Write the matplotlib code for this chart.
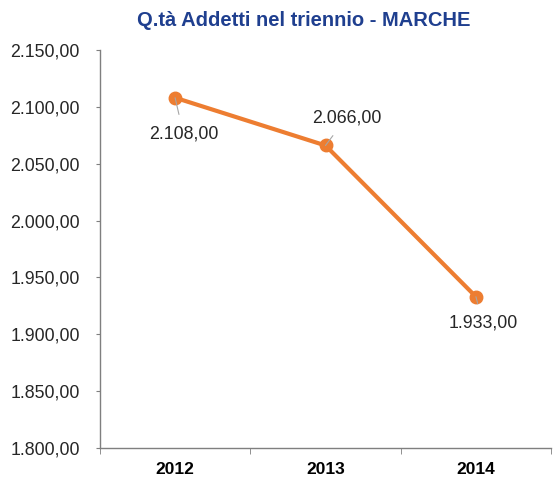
import matplotlib.pyplot as plt
from matplotlib.ticker import FixedLocator, FuncFormatter

plt.rcParams["font.family"] = ["Liberation Sans", "DejaVu Sans"]

# Data
years = ["2012", "2013", "2014"]
addetti = [2108.0, 2066.0, 1933.0]
label_offsets = [(6, -26), (15, 20), (5, -19)]


def it_fmt(v, pos=None):
    s = f"{v:,.2f}"
    return s.replace(",", "X").replace(".", ",").replace("X", ".")


fig = plt.figure(figsize=(5.55, 4.79), dpi=100)
ax = fig.add_axes([0.18, 0.0647, 0.813, 0.831])

x = list(range(len(years)))
ax.plot(x, addetti, color="#ED7D31", linewidth=3, marker="o", markersize=9,
        solid_capstyle="round", zorder=3)

for xi, yi, off in zip(x, addetti, label_offsets):
    ax.annotate(it_fmt(yi), (xi, yi), xytext=off, textcoords="offset points",
                ha="center", va="center", fontsize=12.8, color="#262626",
                arrowprops=dict(arrowstyle="-", color="#A6A6A6", lw=0.8,
                                shrinkA=6, shrinkB=0))

ax.set_xlim(-0.5, 2.5)
ax.set_ylim(1800, 2150)
ax.set_yticks([1800 + 50 * i for i in range(8)])
ax.yaxis.set_major_formatter(FuncFormatter(it_fmt))
ax.set_xticks(x)
ax.set_xticklabels(years, fontweight="bold", fontsize=12.5)
ax.xaxis.set_minor_locator(FixedLocator([-0.5, 0.5, 1.5, 2.5]))

ax.spines["top"].set_visible(False)
ax.spines["right"].set_visible(False)
for s in ["left", "bottom"]:
    ax.spines[s].set_color("#7F7F7F")
    ax.spines[s].set_linewidth(1)

ax.tick_params(axis="y", direction="out", length=3, color="#7F7F7F",
               labelsize=12.8, labelcolor="#262626", pad=11.5)
ax.tick_params(axis="x", which="major", length=0, pad=10, labelcolor="#000000")
ax.tick_params(axis="x", which="minor", direction="out", length=4,
               color="#7F7F7F")

fig.text(0.547, 0.958, "Q.tà Addetti nel triennio - MARCHE", ha="center",
         va="center", fontsize=14.5, fontweight="bold", color="#1F3F8F")

fig.savefig("out.png", dpi=100)
